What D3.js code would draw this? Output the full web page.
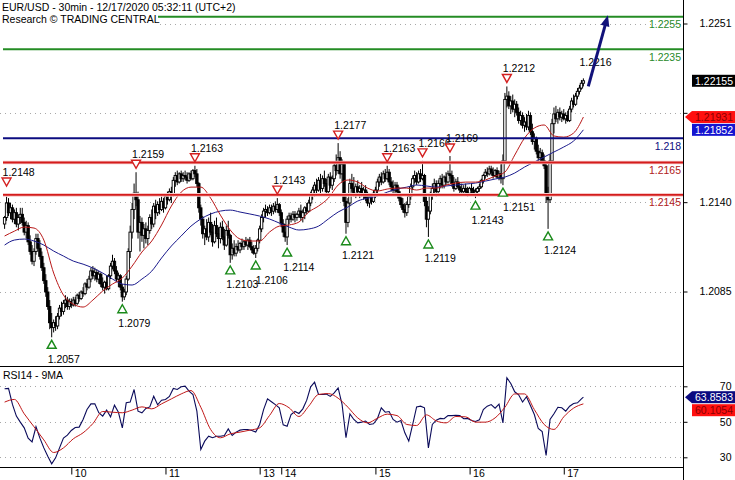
<!DOCTYPE html>
<html><head><meta charset="utf-8">
<script src="https://cdn.jsdelivr.net/npm/d3@7"></script>
<style>
body{margin:0;background:#fff}
svg{display:block}
text{font-family:"Liberation Sans",Arial,sans-serif;font-size:10.5px}
</style>
</head><body>
<svg id="c" width="735" height="480"></svg>
<script>
// ---------------- DATA ----------------
const titleText = "EUR/USD - 30min - 12/17/2020 05:32:11 (UTC+2)";
const subtitleText = "Research \u00A9 TRADING CENTRAL";
const rsiTitle = "RSI14 - 9MA";

// 30-min bars [open, high, low, close] in pips above 1.2000
const bars = [
[127,132,124,131],[131,144,129,140],[140,143,132,134],[134,140,130,137],[137,139,128,130],[130,136,127,134],[134,137,125,127],[127,133,123,131],[131,137,127,133],[133,137,126,128],
[128,131,120,122],[122,129,118,126],[126,128,114,116],[116,120,108,110],[110,114,102,104],[104,112,101,110],[110,121,108,118],[118,121,110,112],[112,117,105,107],[107,110,98,100],
[100,103,90,92],[92,96,82,85],[85,88,74,76],[76,80,62,66],[66,72,57,63],[63,68,60,66],[66,70,61,64],[64,72,62,70],[70,77,68,75],[75,79,70,73],
[73,80,71,78],[78,83,75,80],[80,82,74,76],[76,81,74,79],[79,81,75,77],[77,82,76,80],[80,82,76,78],[78,84,77,83],[83,85,79,81],[81,86,80,85],
[85,88,82,84],[84,91,83,90],[90,93,86,88],[88,95,87,93],[93,100,91,98],[98,101,93,95],[95,100,92,97],[97,99,91,93],[93,98,90,96],[96,97,88,90],
[90,94,86,88],[88,92,84,91],[91,95,86,87],[87,96,86,95],[95,103,93,101],[101,108,99,104],[104,106,96,98],[98,101,91,93],[93,97,88,95],[95,96,86,88],
[88,90,79,82],[82,87,80,85],[85,95,83,93],[93,112,92,110],[110,126,106,122],[122,140,118,136],[136,152,130,146],[146,159,138,142],[142,147,118,122],[122,132,110,128],
[128,131,116,120],[120,127,112,124],[124,128,115,118],[118,126,114,123],[123,133,121,131],[131,136,124,127],[127,140,125,138],[138,142,130,134],[134,141,132,139],[139,143,133,136],
[136,144,135,141],[141,143,134,137],[137,146,136,144],[144,147,139,142],[142,149,141,147],[147,150,140,145],[145,156,144,154],[154,159,150,157],[157,160,151,153],[153,159,152,158],
[158,160,153,155],[155,159,153,157],[157,160,154,156],[156,159,152,154],[154,159,153,158],[158,160,154,155],[155,161,154,160],[160,163,156,158],[158,161,150,152],[152,153,134,137],
[137,139,126,130],[130,132,118,121],[121,126,114,124],[124,130,117,119],[119,131,116,128],[128,134,120,122],[122,127,113,116],[116,129,115,126],[126,131,119,121],[121,125,112,118],
[118,128,115,125],[125,129,117,119],[119,124,111,114],[114,126,113,123],[123,129,118,120],[120,121,103,108],[108,115,105,112],[112,117,107,109],[109,115,107,113],[113,117,110,111],
[111,116,109,115],[115,118,111,113],[113,117,111,116],[116,119,113,114],[114,118,111,117],[117,119,112,113],[113,116,109,111],[111,114,108,109],[109,114,106,112],[112,118,110,117],
[117,126,115,124],[124,133,122,131],[131,137,128,135],[135,139,131,136],[136,138,132,134],[134,139,133,137],[137,139,132,135],[135,140,133,138],[138,141,134,136],[136,143,134,139],
[139,140,132,134],[134,136,125,127],[127,130,119,122],[122,127,116,119],[119,132,114,130],[130,134,127,132],[132,134,128,130],[130,135,129,133],[133,135,128,131],[131,134,129,133],
[133,137,131,135],[135,139,129,131],[131,136,128,134],[134,138,130,137],[137,140,133,135],[135,142,134,140],[140,147,138,145],[145,150,142,148],[148,153,144,151],[151,155,146,148],
[148,156,147,154],[154,158,146,149],[149,157,147,155],[155,160,150,152],[152,155,145,147],[147,158,146,156],[156,159,149,151],[151,157,148,155],[155,165,153,163],[163,170,157,160],
[160,177,158,168],[168,172,155,158],[158,167,153,164],[164,166,138,141],[141,145,121,128],[128,143,125,140],[140,155,138,152],[152,158,147,149],[149,156,144,146],[146,152,143,150],
[150,154,145,147],[147,151,143,149],[149,153,144,145],[145,150,142,148],[148,151,141,143],[143,147,138,140],[140,146,137,144],[144,146,139,141],[141,148,140,146],[146,150,143,148],
[148,155,146,153],[153,158,150,156],[156,159,151,153],[153,160,152,158],[158,161,153,155],[155,163,154,159],[159,161,151,153],[153,156,147,150],[150,154,146,148],[148,153,145,151],
[151,153,145,147],[147,150,141,143],[143,146,137,139],[139,143,134,136],[136,140,131,134],[134,141,132,139],[139,146,137,144],[144,152,142,150],[150,157,148,155],[155,160,152,157],
[157,159,151,153],[153,160,152,158],[158,161,153,155],[155,166,154,157],[157,158,138,141],[141,144,125,130],[130,138,119,135],[135,147,133,145],[145,152,142,149],[149,155,146,152],
[152,154,144,147],[147,154,145,152],[152,157,149,155],[155,158,149,151],[151,157,149,156],[156,159,151,153],[153,160,152,158],[158,169,155,157],[157,160,150,152],[152,156,147,149],
[149,155,148,153],[153,156,149,150],[150,153,146,148],[148,152,145,147],[147,151,145,149],[149,152,146,147],[147,150,144,146],[146,150,145,149],[149,152,146,148],[148,150,145,146],
[146,149,143,147],[147,150,145,149],[149,152,147,150],[150,155,149,154],[154,158,152,157],[157,161,155,159],[159,162,156,158],[158,163,157,161],[161,163,157,159],[159,162,155,157],
[157,161,156,160],[160,162,155,156],[156,160,154,158],[158,164,152,155],[155,170,151,166],[166,208,164,204],[204,212,199,206],[206,209,198,200],[200,206,195,203],[203,207,196,198],
[198,204,193,201],[201,203,194,196],[196,199,189,191],[191,197,188,194],[194,196,186,188],[188,193,184,190],[190,195,185,187],[187,197,185,194],[194,196,182,184],[184,189,176,178],
[178,183,173,180],[180,181,170,172],[172,176,166,168],[168,174,165,171],[171,173,164,166],[166,170,161,163],[163,166,140,145],[145,150,124,142],[142,170,140,166],[166,192,164,189],
[189,199,183,195],[195,200,190,192],[192,198,189,196],[196,199,191,193],[193,197,190,195],[195,198,191,192],[192,196,189,194],[194,197,190,191],[191,200,190,198],[198,205,196,203],
[203,207,199,201],[201,208,200,206],[206,211,204,209],[209,213,207,211],[211,216,210,214],[214,217,212,215.5]
];

// moving averages on price, one value every 5 bars (pips above 1.2000)
const maStep = 5;
const maFast = [119.6,122.6,125.1,124.5,117.1,96.7,83.1,77.5,75.7,80.0,
85.6,89.9,93.6,101.0,109.7,116.5,126.4,138.1,146.7,149.8,
149.8,143.0,132.5,123.3,117.7,116.5,116.5,122.0,125.7,126.4,
128.2,134.4,138.1,143.0,151.1,154.2,152.9,149.2,147.4,148.6,
149.2,149.2,148.0,149.2,149.2,151.1,152.3,152.9,152.9,154.2,
156.6,159.1,169.6,180.1,186.3,188.2,181.4,180.7,183.2,193.1];
const maSlow = [114.0,117.1,117.7,116.5,114.0,110.3,107.2,104.1,102.2,99.8,
96.7,93.0,89.9,89.3,93.0,97.9,106.0,113.4,119.6,125.7,
130.1,133.2,135.0,135.6,134.4,133.2,131.9,130.1,127.6,125.1,
123.3,123.9,125.7,130.1,134.4,137.5,141.2,143.0,144.3,146.7,
148.6,149.8,151.1,150.5,149.8,150.5,151.1,151.7,152.3,153.5,
154.8,156.0,158.5,162.2,165.3,168.4,171.5,174.6,178.3,185.2];

// RSI14, one value every 2 bars, plus the last bar
const rsiStep = 2;
const rsi = [68.6,68.8,59.8,53.2,49.8,46.6,40.8,38.7,47.2,40.8,
35.3,30.6,26.3,29.7,35.3,40.8,42.5,45.1,46.8,47.0,
51.3,56.9,60.1,60.1,55.1,53.2,56.6,52.8,59.4,55.4,
46.6,60.7,61.1,68.2,56.0,55.1,57.5,58.4,64.4,59.6,
62.2,62.6,64.3,68.8,68.2,69.7,70.1,67.3,65.4,56.0,
34.4,39.1,41.9,41.0,41.9,41.9,42.3,46.0,42.3,44.2,
45.3,45.7,45.7,45.1,44.2,48.5,56.9,62.9,61.3,59.7,
57.9,48.3,47.5,54.1,55.8,54.7,57.3,62.2,69.7,72.3,
65.4,65.4,65.6,64.3,66.3,69.1,59.8,41.0,54.5,51.3,
49.4,49.8,50.4,48.5,48.9,51.7,57.9,55.4,55.8,51.3,
49.8,50.7,43.8,39.1,48.5,58.4,58.8,57.9,35.3,48.5,
50.9,51.9,51.7,53.5,53.5,53.7,53.5,51.7,51.9,50.7,
50.2,51.1,56.9,58.8,59.7,57.7,59.9,49.4,74.8,71.6,
66.9,65.2,61.1,64.1,59.2,54.1,46.2,44.5,31.0,51.3,
54.5,58.2,57.9,56.0,58.8,60.3,60.7,62.9];
const rsiLast = 63.8583;
// 9-period MA of RSI, one value every 5 bars
const rsiMa = [61.1,62.6,54.5,47.2,39.8,32.7,35.3,40.4,43.8,49.0,
55.8,55.4,55.1,56.6,58.4,57.3,60.1,62.9,65.7,67.6,
58.2,45.7,41.0,43.2,44.2,45.3,46.6,53.5,60.3,57.9,
53.0,58.8,65.4,65.9,63.3,58.2,52.2,49.4,52.0,54.3,
53.5,48.5,47.9,53.9,50.5,49.4,53.0,52.8,49.8,49.8,
52.2,58.2,65.7,65.7,56.9,48.5,45.7,52.8,57.7,60.1054];

const dayLabels = ["10","11","13","14","15","16","17"];
const dayStartBar = [34,82,130,141,189,237,285];

const levels = [1.2255,1.2235,1.218,1.2165,1.2145];
const levelLabels = ["1.2255","1.2235","1.218","1.2165","1.2145"];
const levelKinds = ["target","target","pivot","resist","resist"];

// grid ticks; the 1.2196 label is hidden behind the value boxes in the reference
const priceTicks = [1.20853,1.21405,1.21957,1.22509];
const priceTickLabels = ["1.2085","1.2140","","1.2251"];
const rsiTicks = [70,50,30];

const highMarks = [[1,1.2148],[67,1.2159],[97,1.2163],[139,1.2143],[170,1.2177],[195,1.2163],[213,1.2166],[227,1.2169],[256,1.2212]];
const lowMarks = [[24,1.2057],[60,1.2079],[115,1.2103],[128,1.2106],[144,1.2114],[174,1.2121],[216,1.2119],[240,1.2143],[254,1.2151],[277,1.2124]];
const lastHigh = [295,1.2216];

const lastPrice = 1.22155, fastLast = 1.21931, slowLast = 1.21852;
const rsiMaLast = 60.1054;
const arrowFrom = [297.5,1.2212], arrowTo = [307.5,1.2256];

// ---------------- DRAW ----------------
const RIGHT = 683, MAIN_BOTTOM = 366.5, RSI_BOTTOM = 467.5;
const svg = d3.select("#c");
const px = v => 1.2 + v/10000;
const x = d3.scaleLinear().domain([0,346]).range([4.6, 4.6+346*1.962]);
const y = d3.scaleLinear().domain([1.20853,1.22509]).range([291.5,23.5]);
const yr = d3.scaleLinear().domain([30,70]).range([457.3,386.3]);

const defs = svg.append("defs");
defs.append("clipPath").attr("id","cm").append("rect").attr("x",0).attr("y",0).attr("width",RIGHT).attr("height",MAIN_BOTTOM);
defs.append("clipPath").attr("id","cr").append("rect").attr("x",0).attr("y",MAIN_BOTTOM+0.5).attr("width",RIGHT).attr("height",RSI_BOTTOM-MAIN_BOTTOM-1);

const main = svg.append("g").attr("clip-path","url(#cm)");
const rsiG = svg.append("g").attr("clip-path","url(#cr)");

// dotted grids
main.selectAll("line.g").data(priceTicks).join("line")
  .attr("x1",0).attr("x2",RIGHT).attr("y1",d=>Math.round(y(d))+0.5).attr("y2",d=>Math.round(y(d))+0.5)
  .attr("stroke","#a8a8a8").attr("stroke-dasharray","1,4");
rsiG.selectAll("line.g").data(rsiTicks).join("line")
  .attr("x1",0).attr("x2",RIGHT).attr("y1",d=>Math.round(yr(d))+0.5).attr("y2",d=>Math.round(yr(d))+0.5)
  .attr("stroke","#a8a8a8").attr("stroke-dasharray","1,4");

// candles
const cg = main.append("g");
cg.selectAll("line").data(bars).join("line")
  .attr("x1",(d,i)=>x(i)).attr("x2",(d,i)=>x(i))
  .attr("y1",d=>y(px(d[1]))).attr("y2",d=>y(px(d[2])))
  .attr("stroke","#000").attr("stroke-width",1);
cg.selectAll("rect").data(bars).join("rect")
  .attr("x",(d,i)=>x(i)-1.2).attr("width",2.4)
  .attr("y",d=>y(px(Math.max(d[0],d[3]))))
  .attr("height",d=>Math.max(1,Math.abs(y(px(d[0]))-y(px(d[3])))))
  .attr("fill",d=>d[3]>=d[0]?"#fff":"#000")
  .attr("stroke","#000").attr("stroke-width",0.9);

// moving averages
const maLine = d3.line().x(d=>x(d[0])).y(d=>y(d[1])).curve(d3.curveMonotoneX);
main.append("path").attr("d",maLine(maSlow.map((v,i)=>[i*maStep,px(v)])))
  .attr("fill","none").attr("stroke","#1a1a8c").attr("stroke-width",1);
main.append("path").attr("d",maLine(maFast.map((v,i)=>[i*maStep,px(v)])))
  .attr("fill","none").attr("stroke","#b81818").attr("stroke-width",1);

// level lines
const kindColor = {target:"#248c24", pivot:"#0c0c80", resist:"#d41c1c"};
const kindText = {target:"#2a8a2a", pivot:"#0c0c80", resist:"#b02020"};
levels.forEach((lv,i)=>{
  const k = levelKinds[i], yy = y(lv);
  if(k==="resist"){
    main.append("line").attr("x1",3).attr("x2",RIGHT).attr("y1",yy).attr("y2",yy)
      .attr("stroke","#f7c8c8").attr("stroke-width",3.6);
  }
  main.append("line").attr("x1",3).attr("x2",RIGHT).attr("y1",yy).attr("y2",yy)
    .attr("stroke",kindColor[k]).attr("stroke-width",k==="resist"?1.8:2);
  main.append("text").attr("x",681).attr("y",yy+11.4).attr("text-anchor","end")
    .attr("fill",kindText[k]).text(levelLabels[i]);
});

// markers
const mk = main.append("g");
highMarks.forEach(([i,v])=>{
  const cx = x(i), yv = y(v);
  mk.append("path").attr("d",`M${cx-4.5},${yv-12}L${cx+4.5},${yv-12}L${cx},${yv-4}Z`)
    .attr("fill","#fff").attr("stroke","#d42020").attr("stroke-width",1.4);
  mk.append("text").attr("x",Math.max(1,cx-4)).attr("y",yv-14).attr("fill","#000").text(v.toFixed(4));
});
lowMarks.forEach(([i,v],j)=>{
  const cx = x(i), yv = y(v);
  mk.append("path").attr("d",`M${cx-4.5},${yv+11}L${cx+4.5},${yv+11}L${cx},${yv+3}Z`)
    .attr("fill","#fff").attr("stroke","#1a8a1a").attr("stroke-width",1.4);
  // keep neighbouring labels from colliding
  const prev = j>0 ? x(lowMarks[j-1][0]) : -99;
  const tx = (cx - prev < 30) ? cx : cx-4;
  mk.append("text").attr("x",tx).attr("y",yv+25.5).attr("fill","#000").text(v.toFixed(4));
});
mk.append("text").attr("x",x(lastHigh[0])-4).attr("y",y(lastHigh[1])-14).attr("fill","#000").text(lastHigh[1].toFixed(4));

// forecast arrow
{
  const x1=x(arrowFrom[0]), y1=y(arrowFrom[1]), x2=x(arrowTo[0]), y2=y(arrowTo[1]);
  const dx=x2-x1, dy=y2-y1, L=Math.hypot(dx,dy), ux=dx/L, uy=dy/L;
  const hl=11, hw=4.5;
  const bx=x2-ux*hl, by=y2-uy*hl;
  svg.append("line").attr("x1",x1).attr("y1",y1).attr("x2",bx+ux*2).attr("y2",by+uy*2)
    .attr("stroke","#12127a").attr("stroke-width",3);
  svg.append("path").attr("d",`M${x2},${y2}L${bx-uy*hw},${by+ux*hw}L${bx+uy*hw},${by-ux*hw}Z`)
    .attr("fill","#12127a");
}

// title with white background
svg.append("rect").attr("x",0).attr("y",0).attr("width",238).attr("height",13).attr("fill","#fff");
svg.append("rect").attr("x",0).attr("y",13).attr("width",158).attr("height",13).attr("fill","#fff");
svg.append("text").attr("x",2).attr("y",11).attr("fill","#000").text(titleText);
svg.append("text").attr("x",2).attr("y",23).attr("fill","#000").text(subtitleText);

// RSI
const rLine = d3.line().x(d=>x(d[0])).y(d=>yr(d[1]));
rsiG.append("path").attr("d",rLine(rsi.map((v,i)=>[i*rsiStep,v]).concat([[bars.length-1,rsiLast]])))
  .attr("fill","none").attr("stroke","#0a0a5a").attr("stroke-width",1.1);
rsiG.append("path").attr("d",rLine.curve(d3.curveMonotoneX)(rsiMa.map((v,i)=>[i*maStep,v])))
  .attr("fill","none").attr("stroke","#c01818").attr("stroke-width",1);
svg.append("text").attr("x",3).attr("y",379).attr("fill","#000").text(rsiTitle);

// frame lines
svg.append("line").attr("x1",0).attr("x2",RIGHT).attr("y1",MAIN_BOTTOM).attr("y2",MAIN_BOTTOM).attr("stroke","#000");
svg.append("line").attr("x1",0).attr("x2",RIGHT).attr("y1",RSI_BOTTOM).attr("y2",RSI_BOTTOM).attr("stroke","#000");
svg.append("line").attr("x1",RIGHT+0.5).attr("x2",RIGHT+0.5).attr("y1",0).attr("y2",480).attr("stroke","#000");

// axes
function styleAxis(g){
  g.attr("font-family",null).attr("font-size",null);
  g.select(".domain").remove();
  g.selectAll("text").attr("fill","#000");
}
const ay = svg.append("g").attr("transform",`translate(${RIGHT+0.5},0)`)
  .call(d3.axisRight(y).tickValues(priceTicks).tickFormat((d,i)=>priceTickLabels[i]).tickSize(4));
styleAxis(ay); ay.selectAll("text").attr("x",48).attr("text-anchor","end");
const ar = svg.append("g").attr("transform",`translate(${RIGHT+0.5},0)`)
  .call(d3.axisRight(yr).tickValues(rsiTicks).tickSize(4));
styleAxis(ar); ar.selectAll("text").attr("x",48).attr("text-anchor","end");
const ax = svg.append("g").attr("transform",`translate(0,${RSI_BOTTOM})`)
  .call(d3.axisBottom(x).tickValues(dayStartBar).tickFormat((d,i)=>dayLabels[i]).tickSize(7));
styleAxis(ax); ax.selectAll("text").attr("text-anchor","start").attr("x",3).attr("y",2);

// value boxes
function box(yc, txt, fill, color, pointer){
  const g = svg.append("g");
  if(pointer) g.append("path").attr("d",`M${RIGHT+2},${yc}L${RIGHT+9},${yc-6}L${RIGHT+9},${yc+6}Z`).attr("fill",fill);
  g.append("rect").attr("x",RIGHT+9).attr("y",yc-6).attr("width",735-RIGHT-9).attr("height",12).attr("fill",fill);
  g.append("text").attr("x",733).attr("y",yc+4).attr("text-anchor","end").attr("fill",color).text(txt);
  return yc+6;
}
box(y(lastPrice), lastPrice.toFixed(5), "#000", "#fff", false);
let b1 = box(y(fastLast), fastLast.toFixed(5), "#ff1010", "#8a0000", true);
box(Math.max(y(slowLast), b1+6.5), slowLast.toFixed(5), "#1414d0", "#fff", false);
let b2 = box(yr(rsiLast), rsiLast.toFixed(4), "#0a0a80", "#fff", true);
box(Math.max(yr(rsiMaLast), b2+7), rsiMaLast.toFixed(4), "#ff1010", "#8a0000", false);
</script>
</body></html>
